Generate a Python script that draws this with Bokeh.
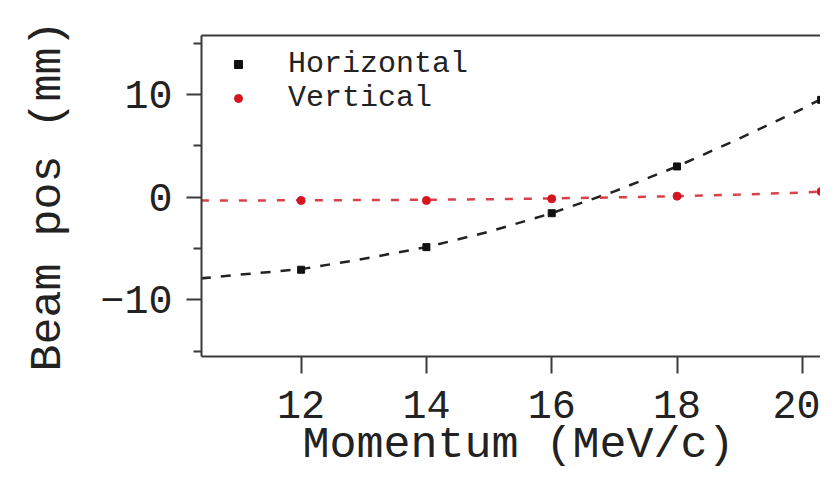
from bokeh.plotting import figure
from bokeh.models import Range1d, FixedTicker, LinearAxis, Legend, LegendItem, Label
from bokeh.embed import file_html
from bokeh.resources import INLINE

# ---- data ----
momentum = [12, 14, 16, 18, 20.3]
horizontal = [-7.06, -4.86, -1.56, 2.99, 9.47]
vertical = [-0.32, -0.32, -0.16, 0.10, 0.55]

fit_momentum = [10.4, 11, 12, 13, 14, 15, 16, 17, 18, 19, 20, 20.5]
fit_horizontal = [-7.9, -7.55, -7.0, -6.0, -4.86, -3.36, -1.56, 0.56, 2.99, 5.72, 8.6, 10.2]
fit_vertical = [-0.33, -0.32, -0.3, -0.28, -0.25, -0.2, -0.12, -0.02, 0.1, 0.25, 0.45, 0.6]

x_ticks = [12, 14, 16, 18, 20]
y_ticks = [-10, 0, 10]
y_minor_ticks = [-15, -5, 5, 15]
series_names = ["Horizontal", "Vertical"]
x_title = "Momentum (MeV/c)"
y_title = "Beam pos (mm)"

FONT = "Liberation Mono"
AXIS_COL = "#3a3a3a"
TEXT_COL = "#222222"

p = figure(width=820, height=472, output_backend="svg", toolbar_location=None,
           x_range=Range1d(10.41, 20.29), y_range=Range1d(-15.5, 15.73),
           min_border_left=201, min_border_top=35, min_border_bottom=116,
           min_border_right=0, y_axis_label=y_title)
p.outline_line_color = None
p.xgrid.visible = False
p.ygrid.visible = False
p.background_fill_color = "white"
p.border_fill_color = "white"

# axes
xa = p.xaxis[0]
xa.ticker = FixedTicker(ticks=x_ticks)
ya = p.yaxis[0]
ya.ticker = FixedTicker(ticks=y_ticks, minor_ticks=y_minor_ticks)
for ax in (xa, ya):
    ax.axis_line_color = AXIS_COL
    ax.axis_line_width = 2
    ax.major_tick_line_color = AXIS_COL
    ax.major_tick_line_width = 2
    ax.minor_tick_line_color = AXIS_COL
    ax.minor_tick_line_width = 2
    ax.major_tick_in = 0
    ax.minor_tick_in = 0
    ax.major_label_text_font = FONT
    ax.major_label_text_font_size = "40px"
    ax.major_label_text_color = TEXT_COL
    ax.axis_label_text_font = FONT
    ax.axis_label_text_font_size = "45px"
    ax.axis_label_text_font_style = "normal"
    ax.axis_label_text_color = TEXT_COL
xa.major_tick_out = 17
xa.minor_tick_out = 0
xa.major_label_standoff = 17
ya.major_tick_out = 15
ya.minor_tick_out = 8
ya.major_label_standoff = 14
ya.axis_label_standoff = 23

top = LinearAxis(ticker=FixedTicker(ticks=[]), axis_line_color=AXIS_COL,
                 axis_line_width=2, major_tick_out=0, minor_tick_out=0,
                 major_label_standoff=0, axis_label_standoff=0)
p.add_layout(top, "above")

# x axis title, placed in the panel below the frame
p.add_layout(Label(x=317, y=26, x_units="screen", y_units="screen",
                   text=x_title, text_align="center", text_baseline="alphabetic",
                   text_font=FONT, text_font_size="45px", text_color=TEXT_COL),
             "below")

# fit lines
p.line(fit_momentum, fit_horizontal, line_color="#222222", line_width=2.5,
       line_dash="10 10")
p.line(fit_momentum, fit_vertical, line_color="#d8404a", line_width=2.5,
       line_dash="8 11")

# data points
rh = p.scatter(momentum, horizontal, marker="square", size=7,
               fill_color="#111111", line_color="#111111")
rv = p.scatter(momentum, vertical, marker="circle", size=8,
               fill_color="#d4141e", line_color="#d4141e")

legend_style = dict(margin=0, padding=0, glyph_width=20, glyph_height=32,
                    label_height=32, label_standoff=40, label_text_font=FONT,
                    label_text_font_size="30px", label_text_color=TEXT_COL,
                    border_line_color=None, background_fill_alpha=0)
p.add_layout(Legend(items=[LegendItem(label=series_names[0], renderers=[rh])],
                    location=(27, 275), **legend_style))
p.add_layout(Legend(items=[LegendItem(label=series_names[1], renderers=[rv])],
                    location=(27, 241), **legend_style))

open("out.html", "w").write(file_html(p, INLINE))
